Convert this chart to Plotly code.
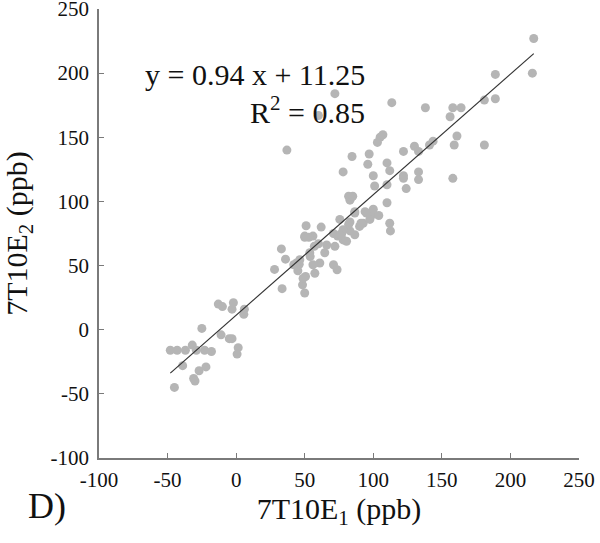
import plotly.graph_objects as go

# Observations: 7T10E1 (x, ppb) vs 7T10E2 (y, ppb)
x_vals = [
    -48, -43, -37, -32, -29, -23, -18, -39, -45, -31, -30, -27, -22, -25, -13, -10,
    -11, -5, -3, -2, -3, 1.5, 0.7, 6, 5.6,
    28, 33, 36, 33.5, 46, 45, 50.6, 48.4, 50, 51, 50, 37,
    62, 60, 64.6, 61, 56, 57.4, 54, 46.4, 44, 48.8, 71, 73.6, 66, 72, 74, 77, 78, 80.5,
    83, 82, 86.5, 90, 92.6, 86.5, 95, 100, 83, 75.6, 71, 56, 50, 57, 53.7, 42, 53,
    217, 216, 189, 189, 181, 181, 158, 164, 156, 161, 159, 158, 138, 113.5, 72, 60,
    143.6, 141, 130, 133, 122, 107, 105, 103, 97, 96, 84.5, 78, 110, 112, 100, 122,
    122, 133, 133, 110, 101, 124, 110, 82, 85, 86.5, 94, 100, 104, 97.5, 91, 112,
    112.5, 83, 78, 76,
]
y_vals = [
    -16, -16, -16, -12, -16, -16, -17, -28, -45, -38, -40, -32, -29, 1, 20, 18,
    -4, -7, -7, 21, 16, -14, -19, 16, 12,
    47, 63, 55, 32, 51, 46, 41.5, 35, 28.6, 81, 72, 140,
    80, 67, 60, 52, 50.6, 44, 57, 54.5, 52, 40, 50.6, 46.7, 66, 65, 73, 75, 70, 69,
    77, 82, 74, 80.5, 83, 91, 91, 90, 101, 86, 75, 73, 73, 65, 60, 50.6, 72,
    227, 200, 199, 180, 179, 144, 173, 173, 166, 151, 144, 118, 173, 177, 184, 167,
    147, 144, 143, 139, 139, 152, 150, 146, 137, 129, 135, 123, 130, 124, 120, 120,
    118, 123, 117, 113, 112, 110, 99, 104, 104, 92, 92, 94, 89, 86, 83, 83,
    77, 84, 78, 74,
]

# Regression line
slope = 0.94
intercept = 11.25
eq_text = "y = 0.94 x + 11.25"
r2_text = "R<sup>2</sup> = 0.85"

x_ticks = [-100, -50, 0, 50, 100, 150, 200, 250]
y_ticks = [-100, -50, 0, 50, 100, 150, 200, 250]

line_x = [min(x_vals), max(x_vals)]
line_y = [slope * v + intercept for v in line_x]

FONT = "Liberation Serif"
TXT = "#111111"

fig = go.Figure()
fig.add_trace(go.Scatter(
    x=x_vals, y=y_vals, mode="markers",
    marker=dict(color="#b5b5b5", size=9, line=dict(width=0)),
    showlegend=False, cliponaxis=False,
))
fig.add_trace(go.Scatter(
    x=line_x, y=line_y, mode="lines",
    line=dict(color="#333333", width=1.2),
    showlegend=False,
))

axis_common = dict(
    showgrid=False, zeroline=False, showline=True,
    linecolor="#7a7a7a", linewidth=1.5,
    ticks="inside", ticklen=5, tickwidth=1.2, tickcolor="#7a7a7a",
    tickfont=dict(family=FONT, size=21, color=TXT),
    mirror=False, automargin=False, ticklabeloverflow="allow",
)

fig.update_xaxes(
    range=[-100, 250], tickvals=x_ticks, ticktext=[str(t) for t in x_ticks],
    title=dict(text="7T10E<sub>1</sub> (ppb)", font=dict(family=FONT, size=30, color=TXT), standoff=0),
    ticklabelstandoff=2,
    **axis_common,
)
fig.update_yaxes(
    range=[-100, 250], tickvals=y_ticks, ticktext=[str(t) for t in y_ticks],
    title=dict(text="7T10E<sub>2</sub> (ppb)", font=dict(family=FONT, size=30, color=TXT), standoff=15),
    ticklabelstandoff=4,
    **axis_common,
)

fig.add_annotation(x=95.3, y=198.6, xref="x", yref="y", text=eq_text, showarrow=False,
                   xanchor="right", yanchor="middle",
                   font=dict(family=FONT, size=30, color=TXT))
fig.add_annotation(x=95.3, y=171.3, xref="x", yref="y", text=r2_text, showarrow=False,
                   xanchor="right", yanchor="middle",
                   font=dict(family=FONT, size=30, color=TXT))
fig.add_annotation(x=-0.108, y=-0.108, xref="paper", yref="paper", text="D)", showarrow=False,
                   xanchor="center", yanchor="middle",
                   font=dict(family=FONT, size=36, color=TXT))

fig.update_layout(
    width=600, height=543,
    margin=dict(l=99, r=21, t=9, b=84.5),
    plot_bgcolor="white", paper_bgcolor="white",
    font=dict(family=FONT, color=TXT),
)

fig.write_html(
    "out.html",
    config={"displayModeBar": False},
    post_script="document.body.style.margin='0';document.body.style.overflow='hidden';",
)
